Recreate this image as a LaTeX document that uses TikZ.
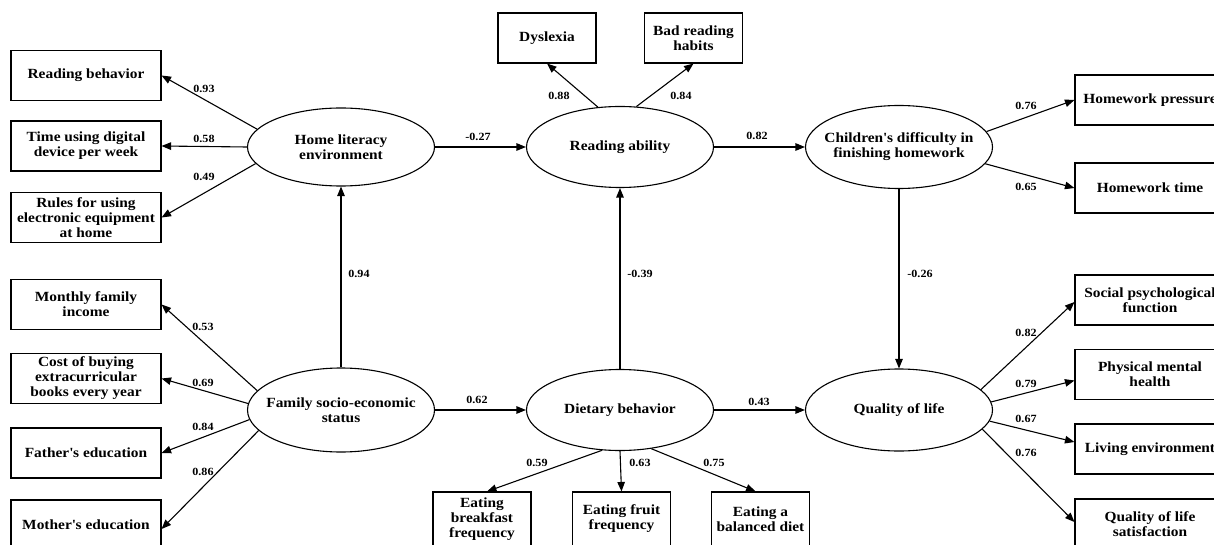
\documentclass[tikz,border=0pt]{standalone}
\usepackage{fontspec}
\setmainfont{Liberation Serif}[FakeStretch=1.1]
\usetikzlibrary{shapes.geometric,arrows.meta}
\begin{document}
\begin{tikzpicture}[x=1pt,y=-1pt,
 ob/.style={draw, line width=1.1pt, minimum width=150pt, minimum height=50pt, inner sep=0pt, align=center, font=\fontsize{14}{15}\selectfont\bfseries},
 sb/.style={ob, minimum width=98pt},
 lv/.style={draw, ellipse, line width=1.1pt, minimum width=187pt, minimum height=81pt, inner sep=0pt},
 lt/.style={align=center, inner sep=0pt, font=\fontsize{14}{15}\selectfont\bfseries},
 ar/.style={line width=1.1pt, -{Triangle[length=9.5pt,width=7.5pt]}},
 lb/.style={font=\fontsize{11}{12}\selectfont\bfseries, inner sep=0pt}]
\useasboundingbox (0,0) rectangle (1214,545);
\clip (0,0) rectangle (1214,545);

% latent variables
\node[lv, minimum height=78pt, label={[lt]center:{Home literacy\\environment}}] (hle) at (341,147) {};
\node[lv, minimum height=84pt, label={[lt]center:{Family socio-economic\\status}}] (ses) at (341,410) {};
\node[lv, label={[lt]center:{Reading ability}}] (ra) at (620,147) {};
\node[lv, label={[lt]center:{Dietary behavior}}] (diet) at (620,410) {};
\node[lv, minimum height=83pt, label={[lt]center:{Children\textquotesingle s difficulty in\\finishing homework}}] (ch) at (899,147) {};
\node[lv, minimum height=82pt, label={[lt]center:{Quality of life}}] (qol) at (899,410) {};

% left indicators
\node[ob] (rb) at (86,75.5) {Reading behavior};
\node[ob] (td) at (86,146) {Time using digital\\device per week};
\node[ob] (ru) at (86,217.5) {Rules for using\\electronic equipment\\at home};
\node[ob] (mf) at (86,304.5) {Monthly family\\income};
\node[ob] (cb) at (86,378.5) {Cost of buying\\extracurricular\\books every year};
\node[ob] (fe) at (86,453) {Father\textquotesingle s education};
\node[ob] (me) at (86,525) {Mother\textquotesingle s education};

% top indicators
\node[sb] (dy) at (547,38) {Dyslexia};
\node[sb] (br) at (693.5,38) {Bad reading\\habits};

% bottom indicators
\node[sb, minimum height=54pt] (eb) at (482,519) {Eating\\breakfast\\frequency};
\node[sb, minimum height=54pt] (ef) at (621.5,519) {Eating fruit\\frequency};
\node[sb, minimum height=54pt] (ed) at (760.5,519) {Eating a\\balanced diet};

% right indicators
\node[ob] (hp) at (1150,100) {Homework pressure};
\node[ob] (ht) at (1150,188) {Homework time};
\node[ob] (sp) at (1150,300) {Social psychological\\function};
\node[ob] (pm) at (1150,374.5) {Physical mental\\health};
\node[ob] (le) at (1150,449) {Living environment};
\node[ob] (qs) at (1150,524) {Quality of life\\satisfaction};

% structural paths
\draw[ar] (ses.north) -- (hle.south);
\draw[ar] (hle.east) -- (ra.west);
\draw[ar] (ra.east) -- (ch.west);
\draw[ar] (diet.north) -- (ra.south);
\draw[ar] (ses.east) -- (diet.west);
\draw[ar] (diet.east) -- (qol.west);
\draw[ar] (ch.south) -- (qol.north);

% measurement paths
\draw[ar] (hle.168) -- (rb.east);
\draw[ar] (hle.west) -- (td.east);
\draw[ar] (hle.191) -- (ru.east);
\draw[ar] (ses.167) -- (mf.east);
\draw[ar] (ses.176) -- (cb.east);
\draw[ar] (ses.186) -- (fe.east);
\draw[ar] (ses.194) -- ([yshift=-4pt]me.east);
\draw[ar] (ra.119) -- (dy.south);
\draw[ar] (ra.68) -- (br.south);
\draw[ar] (diet.246) -- ([xshift=5pt]eb.north);
\draw[ar] (diet.south) -- (ef.north);
\draw[ar] (diet.309) -- ([xshift=-5pt]ed.north);
\draw[ar] (ch.10) -- (hp.west);
\draw[ar] (ch.349) -- (ht.west);
\draw[ar] (qol.14) -- ([yshift=-2pt]sp.west);
\draw[ar] (qol.5) -- ([yshift=-6pt]pm.west);
\draw[ar] (qol.353) -- ([yshift=7pt]le.west);
\draw[ar] (qol.347) -- ([yshift=2pt]qs.west);

% coefficients
\node[lb] (c1) at (204,89) {0.93};
\node[lb] (c2) at (204,139) {0.58};
\node[lb] (c3) at (204,177) {0.49};
\node[lb] (c4) at (203,327) {0.53};
\node[lb] (c5) at (203,383) {0.69};
\node[lb] (c6) at (203,427) {0.84};
\node[lb] (c7) at (203,472) {0.86};
\node[lb] (c8) at (359,274) {0.94};
\node[lb] (c9) at (478,137) {-0.27};
\node[lb] (c10) at (559,96) {0.88};
\node[lb] (c11) at (681,96) {0.84};
\node[lb] (c12) at (757,136) {0.82};
\node[lb] (c13) at (640,274) {-0.39};
\node[lb] (c14) at (477,400) {0.62};
\node[lb] (c15) at (759,402) {0.43};
\node[lb] (c16) at (537,463) {0.59};
\node[lb] (c17) at (640,463) {0.63};
\node[lb] (c18) at (714,463) {0.75};
\node[lb] (c19) at (1026,106) {0.76};
\node[lb] (c20) at (1026,187) {0.65};
\node[lb] (c21) at (920,274) {-0.26};
\node[lb] (c22) at (1026,333) {0.82};
\node[lb] (c23) at (1026,384) {0.79};
\node[lb] (c24) at (1026,419) {0.67};
\node[lb] (c25) at (1026,453) {0.76};
\end{tikzpicture}
\end{document}
